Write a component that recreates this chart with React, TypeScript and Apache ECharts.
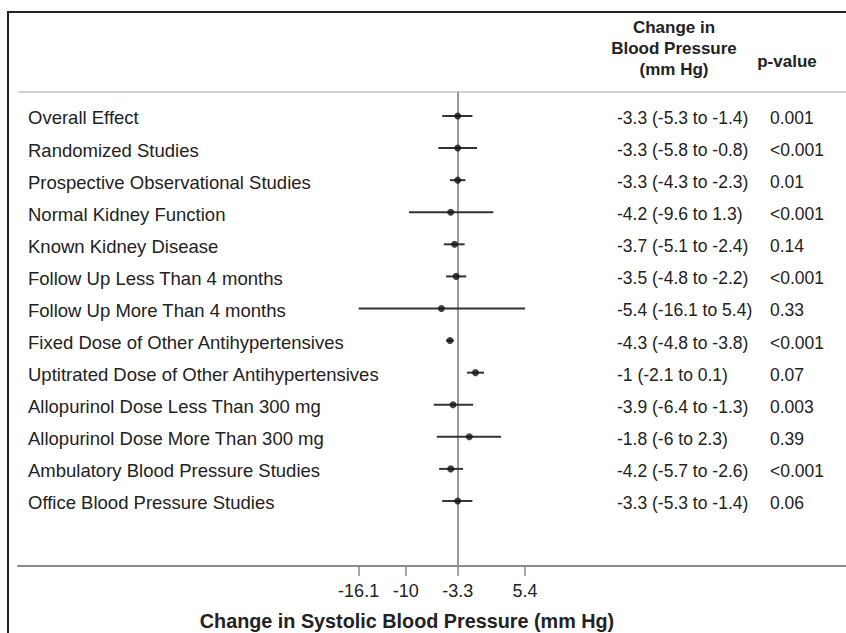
import React, { useEffect, useRef } from "react";
import * as echarts from "echarts";

const labels = [
  "Overall Effect",
  "Randomized Studies",
  "Prospective Observational Studies",
  "Normal Kidney Function",
  "Known Kidney Disease",
  "Follow Up Less Than 4 months",
  "Follow Up More Than 4 months",
  "Fixed Dose of Other Antihypertensives",
  "Uptitrated Dose of Other Antihypertensives",
  "Allopurinol Dose Less Than 300 mg",
  "Allopurinol Dose More Than 300 mg",
  "Ambulatory Blood Pressure Studies",
  "Office Blood Pressure Studies",
];
const estimates = [-3.3, -3.3, -3.3, -4.2, -3.7, -3.5, -5.4, -4.3, -1, -3.9, -1.8, -4.2, -3.3];
const ciLow = [-5.3, -5.8, -4.3, -9.6, -5.1, -4.8, -16.1, -4.8, -2.1, -6.4, -6, -5.7, -5.3];
const ciHigh = [-1.4, -0.8, -2.3, 1.3, -2.4, -2.2, 5.4, -3.8, 0.1, -1.3, 2.3, -2.6, -1.4];
const pValues = ["0.001", "<0.001", "0.01", "<0.001", "0.14", "<0.001", "0.33", "<0.001", "0.07", "0.003", "0.39", "<0.001", "0.06"];
const xTicks = [-16.1, -10, -3.3, 5.4];
const overallEffect = -3.3;

const FONT = "'Liberation Sans', Arial, Helvetica, sans-serif";
const TEXT = "#222";

export default function App() {
  const ref = useRef<HTMLDivElement>(null);
  useEffect(() => {
    if (!ref.current) return;
    const chart = echarts.init(ref.current, undefined, { renderer: "svg" });
    const rows = labels.map((_, i) => [i, ciLow[i], ciHigh[i], estimates[i]]);
    const header = (x: number, y: number, text: string) => ({
      type: "text",
      x,
      y,
      style: { text, fontSize: 17, fontWeight: "bold", fontFamily: FONT, fill: TEXT, align: "center", verticalAlign: "middle" },
    });
    chart.setOption({
      animation: false,
      backgroundColor: "#fff",
      grid: { left: 18, right: 0, top: 92, bottom: 67 },
      xAxis: {
        type: "value",
        min: -60.11,
        max: 46.87,
        axisLine: { show: true, onZero: false, lineStyle: { color: "#8a8a8a", width: 2 } },
        axisTick: { show: true, customValues: xTicks, length: 10, lineStyle: { color: "#8a8a8a", width: 1.5 } },
        axisLabel: {
          show: true,
          customValues: xTicks,
          formatter: (v: number) => String(v),
          fontSize: 18,
          fontFamily: FONT,
          color: TEXT,
          margin: 16,
        },
        splitLine: { show: false },
      },
      yAxis: {
        type: "value",
        inverse: true,
        min: -0.748,
        max: 14.027,
        axisLine: { show: false },
        axisTick: { show: false },
        axisLabel: { show: false },
        splitLine: { show: false },
      },
      graphic: [
        { type: "line", shape: { x1: 7, y1: 12, x2: 846, y2: 12 }, style: { stroke: "#222", lineWidth: 2 } },
        { type: "line", shape: { x1: 8, y1: 11, x2: 8, y2: 633 }, style: { stroke: "#222", lineWidth: 2 } },
        { type: "line", shape: { x1: 18, y1: 92, x2: 846, y2: 92 }, style: { stroke: "#d2d2d2", lineWidth: 2 } },
        header(674, 27, "Change in"),
        header(674, 48, "Blood Pressure"),
        header(674, 69, "(mm Hg)"),
        header(787, 61, "p-value"),
        {
          type: "text",
          x: 407,
          y: 621,
          style: {
            text: "Change in Systolic Blood Pressure (mm Hg)",
            fontSize: 19.8,
            fontWeight: "bold",
            fontFamily: FONT,
            fill: TEXT,
            align: "center",
            verticalAlign: "middle",
          },
        },
      ],
      series: [
        {
          type: "custom",
          clip: false,
          silent: true,
          data: rows,
          encode: { x: [1, 2], y: 0 },
          renderItem: (params: any, api: any) => {
            const i = api.value(0);
            const lo = api.coord([api.value(1), i]);
            const hi = api.coord([api.value(2), i]);
            const ty = lo[1] + 2;
            const est = estimates[i];
            const estText = `${est} (${ciLow[i]} to ${ciHigh[i]})`;
            const txt = (x: number, s: string, size: number) => ({
              type: "text",
              x,
              y: ty,
              style: { text: s, fontSize: size, fontFamily: FONT, fill: TEXT, align: "left", verticalAlign: "middle" },
            });
            return {
              type: "group",
              children: [
                {
                  type: "line",
                  shape: { x1: lo[0], y1: lo[1], x2: hi[0], y2: hi[1] },
                  style: { stroke: "#333", lineWidth: 2 },
                },
                txt(28, labels[i], 18.5),
                txt(617, estText, 17.5),
                txt(770, pValues[i], 17.5),
              ],
            };
          },
          z: 3,
        },
        {
          type: "scatter",
          data: estimates.map((v, i) => [v, i]),
          symbol: "circle",
          symbolSize: 7,
          itemStyle: { color: "#111" },
          silent: true,
          z: 4,
          markLine: {
            silent: true,
            symbol: ["none", "none"],
            label: { show: false },
            lineStyle: { color: "#9a9a9a", width: 2, type: "solid" },
            data: [{ xAxis: overallEffect }],
            z: 1,
          },
        },
      ],
    });
    return () => chart.dispose();
  }, []);
  return <div ref={ref} style={{ position: "absolute", left: 0, top: 0, width: 846, height: 633 }} />;
}
